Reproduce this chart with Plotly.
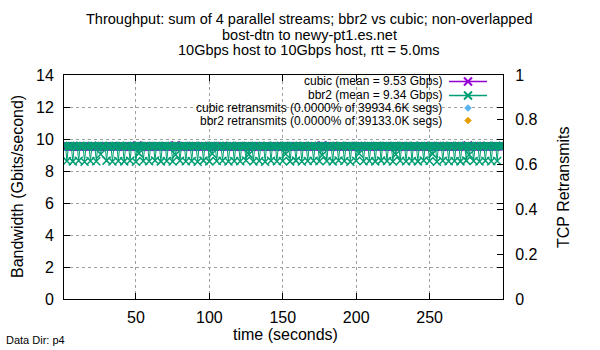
import plotly.graph_objects as go

# ---------------- data ----------------
time_s = list(range(1, 301))

cubic_gbps = [
    9.52,9.54,9.53,9.55,9.52,9.53,9.54,9.51,9.53,9.55,9.52,9.54,9.53,9.52,9.55,9.53,9.54,9.52,9.53,9.54,
    9.53,9.55,9.52,9.54,9.53,9.51,9.54,9.53,9.55,9.52,9.53,9.54,9.52,9.55,9.53,9.54,9.52,9.53,9.55,9.53,
    9.54,9.52,9.53,9.55,9.53,9.52,9.54,9.53,9.52,9.55,9.60,9.53,9.54,9.52,9.53,9.55,9.53,9.54,9.52,9.53,
    9.55,9.52,9.54,9.53,9.52,9.54,9.53,9.55,9.52,9.53,9.54,9.52,9.53,9.55,9.53,9.54,9.61,9.52,9.53,9.54,
    9.52,9.54,9.53,9.55,9.52,9.53,9.54,9.51,9.53,9.55,9.52,9.54,9.53,9.52,9.55,9.53,9.54,9.52,9.53,9.54,
    9.53,9.55,9.52,9.54,9.53,9.51,9.54,9.53,9.55,9.52,9.53,9.54,9.52,9.55,9.53,9.54,9.52,9.53,9.55,9.53,
    9.54,9.52,9.53,9.55,9.53,9.52,9.54,9.53,9.52,9.55,9.53,9.53,9.54,9.52,9.53,9.55,9.53,9.54,9.52,9.53,
    9.55,9.52,9.54,9.53,9.52,9.54,9.53,9.55,9.52,9.53,9.54,9.52,9.53,9.55,9.53,9.54,9.52,9.52,9.53,9.54,
    9.52,9.54,9.53,9.55,9.52,9.53,9.54,9.51,9.53,9.55,9.52,9.54,9.53,9.52,9.55,9.53,9.61,9.52,9.53,9.54,
    9.53,9.55,9.52,9.54,9.53,9.51,9.54,9.53,9.55,9.52,9.53,9.54,9.52,9.55,9.53,9.54,9.52,9.53,9.55,9.53,
    9.54,9.52,9.53,9.55,9.53,9.52,9.54,9.53,9.52,9.55,9.53,9.53,9.54,9.52,9.53,9.55,9.53,9.54,9.52,9.53,
    9.55,9.52,9.54,9.53,9.52,9.54,9.53,9.55,9.52,9.53,9.54,9.52,9.53,9.55,9.53,9.54,9.52,9.52,9.53,9.54,
    9.52,9.54,9.53,9.55,9.52,9.53,9.54,9.51,9.53,9.55,9.52,9.54,9.53,9.52,9.55,9.53,9.54,9.52,9.53,9.54,
    9.53,9.55,9.52,9.54,9.53,9.51,9.54,9.53,9.55,9.52,9.53,9.54,9.52,9.55,9.53,9.60,9.52,9.53,9.55,9.53,
    9.54,9.52,9.53,9.55,9.53,9.52,9.54,9.53,9.52,9.55,9.53,9.53,9.54,9.52,9.53,9.55,9.53,9.54,9.52,9.53,
]

bbr2_gbps = [
    9.55,9.56,8.62,9.54,9.57,9.55,8.60,9.56,9.53,9.55,8.64,9.57,9.54,9.56,8.58,9.55,9.56,9.53,8.63,9.57,
    9.54,9.56,8.61,9.55,9.57,9.05,9.54,9.56,9.53,8.65,9.55,9.57,9.54,8.59,9.56,9.55,9.53,8.62,9.57,9.54,
    9.56,8.60,9.55,9.57,9.53,8.64,9.56,9.54,9.55,8.58,9.57,9.10,9.55,9.56,8.63,9.54,9.57,9.55,8.61,9.56,
    9.53,9.55,8.66,9.57,9.54,9.56,8.60,9.55,9.53,9.57,8.62,9.54,9.56,9.55,8.59,9.57,9.02,9.54,9.56,8.64,
    9.55,9.53,9.57,8.61,9.54,9.56,9.55,8.63,9.57,9.53,9.56,8.58,9.55,9.54,9.57,8.65,9.56,9.55,9.53,8.60,
    9.57,9.08,9.54,9.56,8.62,9.55,9.57,9.53,8.64,9.56,9.54,9.55,8.59,9.57,9.56,9.53,8.63,9.55,9.54,9.57,
    8.61,9.56,9.55,9.53,8.66,9.57,9.04,9.54,9.56,8.60,9.55,9.57,9.53,8.62,9.56,9.54,9.55,8.58,9.57,9.56,
    9.53,8.64,9.55,9.57,9.54,8.61,9.56,9.55,9.53,8.63,9.57,9.06,9.54,9.56,8.60,9.55,9.57,9.53,8.65,9.56,
    9.54,9.55,8.59,9.57,9.56,9.53,8.62,9.55,9.54,9.57,8.64,9.56,9.55,9.53,8.61,9.57,9.00,9.54,9.56,8.63,
    9.55,9.57,9.53,8.60,9.56,9.54,9.55,8.66,9.57,9.56,9.53,8.62,9.55,9.54,9.57,8.58,9.56,9.55,9.53,8.64,
    9.57,9.09,9.54,9.56,8.61,9.55,9.53,9.57,8.63,9.56,9.54,9.55,8.60,9.57,9.53,9.56,8.65,9.55,9.54,9.57,
    8.62,9.56,9.55,9.53,8.59,9.57,9.03,9.54,9.56,8.64,9.55,9.57,9.53,8.61,9.56,9.54,9.55,8.63,9.57,9.56,
    9.53,8.60,9.55,9.57,9.54,8.66,9.56,9.55,9.53,8.62,9.57,9.07,9.54,9.56,8.58,9.55,9.57,9.53,8.64,9.56,
    9.54,9.55,8.61,9.57,9.56,9.53,8.63,9.55,9.54,9.57,8.60,9.56,9.55,9.53,8.65,9.57,9.01,9.54,9.56,8.62,
    9.55,9.57,9.53,8.59,9.56,9.54,9.55,8.64,9.57,9.56,9.53,8.61,9.55,9.54,9.57,8.63,9.56,9.55,9.53,9.57,
]

# zero retransmits in both runs -> nothing to draw
cubic_retrans_t, cubic_retrans = [], []
bbr2_retrans_t, bbr2_retrans = [], []

legend_labels = [
    "cubic (mean = 9.53 Gbps)",
    "bbr2 (mean = 9.34 Gbps)",
    "cubic retransmits (0.0000% of 39934.6K segs)",
    "bbr2 retransmits (0.0000% of 39133.0K segs)",
]
title_lines = [
    "Throughput: sum of 4 parallel streams; bbr2 vs cubic; non-overlapped",
    "bost-dtn to newy-pt1.es.net",
    "10Gbps host to 10Gbps host, rtt = 5.0ms",
]
x_ticks = [50, 100, 150, 200, 250]
y_ticks = [0, 2, 4, 6, 8, 10, 12, 14]
y2_ticks = [0, 0.2, 0.4, 0.6, 0.8, 1]

# ---------------- style ----------------
PURPLE = "#9400D3"
GREEN = "#009E73"
BLUE = "#56B4E9"
ORANGE = "#E69F00"
FONT = "Liberation Sans, Arial, sans-serif"

W, H = 600, 350
L, R, T, B = 64, 97, 75, 51
PW, PH = W - L - R, H - T - B


def px(x):
    return (x - L) / PW


def py(y):
    return (H - B - y) / PH


fig = go.Figure()

fig.add_trace(go.Scatter(
    x=time_s, y=cubic_gbps, mode="lines+markers", name=legend_labels[0],
    line=dict(color=PURPLE, width=1),
    marker=dict(symbol="x-thin", size=8, color=PURPLE, line=dict(color=PURPLE, width=1.5)),
))
fig.add_trace(go.Scatter(
    x=time_s, y=bbr2_gbps, mode="lines+markers", name=legend_labels[1],
    line=dict(color=GREEN, width=1),
    marker=dict(symbol="x-thin", size=8, color=GREEN, line=dict(color=GREEN, width=1.5)),
))
fig.add_trace(go.Scatter(
    x=cubic_retrans_t, y=cubic_retrans, mode="markers", name=legend_labels[2], yaxis="y2",
    marker=dict(symbol="diamond", size=7, color=BLUE),
))
fig.add_trace(go.Scatter(
    x=bbr2_retrans_t, y=bbr2_retrans, mode="markers", name=legend_labels[3], yaxis="y2",
    marker=dict(symbol="diamond", size=7, color=ORANGE),
))

axis_common = dict(
    showline=True, linecolor="black", linewidth=1,
    ticks="inside", ticklen=6, tickcolor="black",
    tickfont=dict(family=FONT, size=16, color="black"),
    zeroline=False,
)

fig.update_layout(
    width=W, height=H,
    margin=dict(l=L, r=R, t=T, b=B, pad=0),
    paper_bgcolor="white", plot_bgcolor="white",
    showlegend=False,
    font=dict(family=FONT, color="black"),
    xaxis=dict(
        range=[1, 300], tickvals=x_ticks, mirror="ticks",
        showgrid=True, gridcolor="#a0a0a0", gridwidth=1, griddash="3px,3px",
        ticklabelstandoff=4,
        **axis_common,
    ),
    yaxis=dict(
        range=[0, 14], tickvals=y_ticks, mirror="ticks",
        showgrid=True, gridcolor="#a0a0a0", gridwidth=1, griddash="3px,3px",
        ticklabelstandoff=6,
        **axis_common,
    ),
    yaxis2=dict(
        range=[0, 1], tickvals=y2_ticks, overlaying="y", side="right",
        showgrid=False, ticklabelstandoff=8,
        **axis_common,
    ),
)

# opaque key box (gnuplot style) sits between grid and data
fig.add_shape(type="rect", xref="paper", yref="paper",
              x0=px(178), x1=px(491), y0=py(127), y1=1,
              fillcolor="white", line=dict(width=0), layer="between")

# legend rows: text right aligned, sample to the right
rows_y = [81.5, 95.5, 108, 120.5]
for i, lab in enumerate(legend_labels):
    fig.add_annotation(text=lab, xref="paper", yref="paper",
                       x=px(443), y=py(rows_y[i]), xanchor="right", yanchor="middle",
                       borderpad=0,
                       showarrow=False, font=dict(family=FONT, size=12, color="black"))

for i, col in enumerate([PURPLE, GREEN]):
    fig.add_shape(type="line", xref="paper", yref="paper",
                  x0=px(449), x1=px(487), y0=py(rows_y[i]), y1=py(rows_y[i]),
                  line=dict(color=col, width=1.5), layer="above")
    fig.add_shape(type="path", xref="paper", yref="paper",
                  xsizemode="pixel", ysizemode="pixel",
                  xanchor=px(468), yanchor=py(rows_y[i]),
                  path="M-4,-4 L4,4 M-4,4 L4,-4",
                  line=dict(color=col, width=2), layer="above")
for i, col in [(2, BLUE), (3, ORANGE)]:
    fig.add_shape(type="path", xref="paper", yref="paper",
                  xsizemode="pixel", ysizemode="pixel",
                  xanchor=px(468), yanchor=py(rows_y[i]),
                  path="M0,-3.5 L3.5,0 L0,3.5 L-3.5,0 Z",
                  fillcolor=col, line=dict(color=col, width=0.5), layer="above")

# titles
for i, (line, yc) in enumerate(zip(title_lines, [19, 34.5, 50])):
    fig.add_annotation(text=line, xref="paper", yref="paper",
                       x=px(309), y=py(yc), xanchor="center", yanchor="middle",
                       showarrow=False, font=dict(family=FONT, size=14.5, color="black"))

fig.add_annotation(text="time (seconds)", xref="paper", yref="paper",
                   x=px(285), y=py(334.5), xanchor="center", yanchor="middle",
                   showarrow=False, font=dict(family=FONT, size=16, color="black"))
fig.add_annotation(text="Bandwidth (Gbits/second)", xref="paper", yref="paper",
                   x=px(17), y=py(187), xanchor="center", yanchor="middle", textangle=-90,
                   showarrow=False, font=dict(family=FONT, size=16, color="black"))
fig.add_annotation(text="TCP Retransmits", xref="paper", yref="paper",
                   x=px(563), y=py(187), xanchor="center", yanchor="middle", textangle=-90,
                   showarrow=False, font=dict(family=FONT, size=16, color="black"))
fig.add_annotation(text="Data Dir: p4", xref="paper", yref="paper",
                   x=px(4), y=py(340), xanchor="left", yanchor="middle",
                   showarrow=False, font=dict(family=FONT, size=11, color="black"))

fig.write_html("out.html")
